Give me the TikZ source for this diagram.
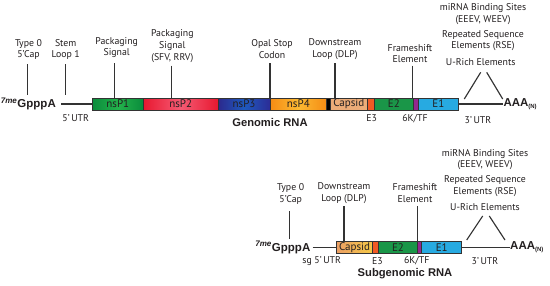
\documentclass[tikz,border=0pt]{standalone}
\usepackage{fontspec}
\setmainfont{PT Sans}
\newfontfamily\arialf{Liberation Sans}
\definecolor{ink}{HTML}{231F20}
\definecolor{lnc}{HTML}{333333}
\begin{document}
\begin{tikzpicture}[x=1pt,y=-1pt,
  lbl/.style={font=\fontsize{9.8}{11.7}\selectfont, align=center, inner sep=0pt, text=ink},
  bold/.style={font=\arialf\bfseries\fontsize{11.5}{13}\selectfont, inner sep=0pt, text=ink},
  seg/.style={draw=lnc, line width=0.7pt, minimum height=12pt, inner sep=0pt, font=\fontsize{11}{11}\selectfont, text=ink},
  conn/.style={draw=lnc, line width=1.15pt},
  thin/.style={draw=lnc, line width=1.15pt}]
\useasboundingbox (0,0) rectangle (550,285);
\fill[white] (0,0) rectangle (550,285);

% ---------------- Genomic RNA ----------------
\node[bold, anchor=east] (gcap) at (56,104) {\textsuperscript{\textit{7me}}GpppA};
\node[seg, minimum width=51pt, left color={rgb,255:red,10;green,140;blue,60}, right color={rgb,255:red,10;green,140;blue,60}, middle color={rgb,255:red,35;green,178;blue,75}] (nsp1) at (117.8,104) {nsP1};
\node[seg, minimum width=74.7pt, left color={rgb,255:red,232;green,24;blue,48}, right color={rgb,255:red,232;green,24;blue,48}, middle color={rgb,255:red,245;green,90;blue,115}] (nsp2) at (180.65,104) {nsP2};
\node[seg, minimum width=52pt, left color={rgb,255:red,44;green,40;blue,140}, right color={rgb,255:red,44;green,44;blue,150}, middle color={rgb,255:red,30;green,90;blue,190}] (nsp3) at (244,104) {nsP3};
\node[seg, minimum width=56.7pt, left color={rgb,255:red,245;green,140;blue,20}, right color={rgb,255:red,245;green,140;blue,20}, middle color={rgb,255:red,252;green,185;blue,50}] (nsp4) at (298.35,104) {nsP4};
\node[seg, minimum width=3.3pt, fill=black] (opal) at (328.35,104) {};
\node[seg, minimum width=37.7pt, fill={rgb,255:red,236;green,172;blue,120}] (gcapsid) at (348.85,104) {Capsid};
\node[seg, minimum width=6.6pt, fill={rgb,255:red,241;green,90;blue,36}] (ge3) at (371,104) {};
\node[seg, minimum width=39pt, fill={rgb,255:red,26;green,150;blue,72}] (ge2) at (393.8,104) {E2};
\node[seg, minimum width=5pt, fill={rgb,255:red,147;green,39;blue,143}] (g6k) at (415.8,104) {};
\node[seg, minimum width=40pt, fill={rgb,255:red,39;green,170;blue,225}] (ge1) at (438.3,104) {E1};
\node[bold, anchor=west] (gaaa) at (503.3,104) {AAA\textsubscript{\fontsize{6}{6}\selectfont(N)}};
\draw[thin] (gcap.east) ++(5,0) coordinate (gl0) -- (nsp1.west);
\draw[thin] (ge1.east) -- (gaaa.west);

% labels above
\node[lbl] (t0) at (28.5,49.5) {Type 0\\5\textquoteright Cap};
\node[lbl] (sl) at (65.7,49.5) {Stem\\Loop 1};
\node[lbl] (ps1) at (116.7,47.5) {Packaging\\Signal};
\node[lbl] (ps2) at (172.3,46) {Packaging\\Signal\\(SFV, RRV)};
\node[lbl] (op) at (272,49) {Opal Stop\\Codon};
\node[lbl] (dlp) at (335,49) {Downstream\\Loop (DLP)};
\node[lbl] (fs) at (410,53.5) {Frameshift\\Element};
\node[lbl] (mir) at (483,14.2) {miRNA Binding Sites\\(EEEV, WEEV)};
\node[lbl] (rse) at (483,40.5) {Repeated Sequence\\Elements (RSE)};
\node[lbl] (ur) at (480.7,61.7) {U-Rich Elements};

\draw[conn] (27.7,64) coordinate (a1) -- (27.7,95) coordinate (a2);
\draw[conn] (65.7,64) coordinate (b1) -- (65.7,95) coordinate (b2);
\draw[conn] (114.3,63) coordinate (c1) -- (nsp1.north -| c1);
\draw[conn] (171.7,65.7) coordinate (d1) -- (nsp2.north -| d1);
\draw[conn] (270,63) coordinate (e1) -- (nsp4.north -| e1);
\draw[conn] (335,63) coordinate (f1) -- (gcapsid.north -| f1);
\draw[conn] (412.7,65.7) coordinate (g1) -- (ge2.north -| g1);
\draw[conn] (464.3,99) coordinate (h1) -- (480.7,72.3) coordinate (h2);
\draw[conn] (486.7,72.3) coordinate (i1) -- (502.7,99) coordinate (i2);

% labels below
\node[lbl] (utr5) at (75.7,118.5) {5\textquoteright\,UTR};
\node[bold, font=\arialf\bfseries\fontsize{11.2}{13}\selectfont] (grna) at (270,122) {Genomic RNA};
\node[lbl] (e3l) at (371.7,118.5) {E3};
\node[lbl] (k6l) at (415,118.5) {6K/TF};
\node[lbl] (utr3) at (478,120) {3\textquoteright\,UTR};

% ---------------- Subgenomic RNA ----------------
\node[bold, anchor=east] (scap) at (310.5,247.5) {\textsuperscript{\textit{7me}}GpppA};
\node[seg, minimum width=35.6pt, minimum height=12.4pt, left color={rgb,255:red,236;green,160;blue,100}, right color={rgb,255:red,245;green,200;blue,70}] (scapsid) at (354.5,247.5) {Capsid};
\node[seg, minimum width=6pt, minimum height=12.4pt, fill={rgb,255:red,241;green,90;blue,36}] (se3) at (375.3,247.5) {};
\node[seg, minimum width=39.4pt, minimum height=12.4pt, fill={rgb,255:red,26;green,150;blue,72}] (se2) at (398,247.5) {E2};
\node[seg, minimum width=4pt, minimum height=12.4pt, fill={rgb,255:red,147;green,39;blue,143}] (s6k) at (419.7,247.5) {};
\node[seg, minimum width=40pt, minimum height=12.4pt, fill={rgb,255:red,39;green,170;blue,225}] (se1) at (441.7,247.5) {E1};
\node[bold, anchor=west] (saaa) at (510,247.5) {AAA\textsubscript{\fontsize{6}{6}\selectfont(N)}};
\draw[thin] (scap.east) ++(2.2,0) coordinate (sl0) -- (scapsid.west);
\draw[thin] (se1.east) -- (saaa.west);

\node[lbl] (st0) at (290.7,194.2) {Type 0\\5\textquoteright Cap};
\node[lbl] (sdlp) at (344,193.3) {Downstream\\Loop (DLP)};
\node[lbl] (sfs) at (415,193.3) {Frameshift\\Element};
\node[lbl] (smir) at (485,159.5) {miRNA Binding Sites\\(EEEV, WEEV)};
\node[lbl] (srse) at (485,185.8) {Repeated Sequence\\Elements (RSE)};
\node[lbl] (sur) at (485,206.7) {U-Rich Elements};

\draw[conn] (289.3,211) coordinate (j1) -- (289.3,239.3) coordinate (j2);
\draw[conn] (344,206) coordinate (k1) -- (scapsid.north -| k1);
\draw[conn] (417.7,206) coordinate (m1) -- (s6k.north -| m1);
\draw[conn] (466.7,240) coordinate (n1) -- (482.7,216) coordinate (n2);
\draw[conn] (489.3,216) coordinate (o1) -- (505,240) coordinate (o2);

\node[lbl] (sutr5) at (321.7,261) {sg 5\textquoteright\,UTR};
\node[lbl] (se3l) at (377.3,261) {E3};
\node[lbl] (s6kl) at (416.7,261) {6K/TF};
\node[lbl] (sutr3) at (485,261) {3\textquoteright\,UTR};
\node[bold, font=\arialf\bfseries\fontsize{11.2}{13}\selectfont] (srna) at (405,273.3) {Subgenomic RNA};
\end{tikzpicture}
\end{document}
